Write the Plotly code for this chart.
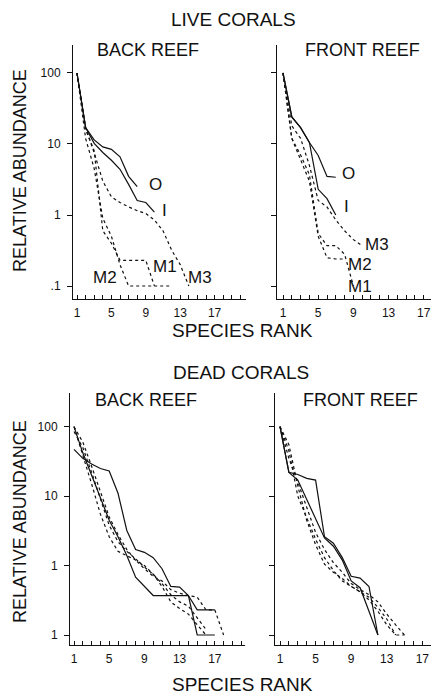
import numpy as np
import plotly.graph_objects as go

# ---------------- data (relative abundance by species rank) ----------------
# LIVE CORALS - BACK REEF
tl_O = [100, 17, 11.4, 9.1, 8.4, 6.6, 3.5, 2.5]
tl_I = [100, 17, 10.2, 7.6, 5.9, 4.4, 2.7, 1.6, 1.5, 1.1]
tl_M1 = [100, 16, 8, 0.6, 0.4, 0.23, 0.23, 0.23, 0.23, 0.1]
tl_M2 = [100, 12, 4.5, 0.9, 0.5, 0.2, 0.1, 0.1, 0.1, 0.1, 0.1, 0.1]
tl_M3 = [100, 17, 7.5, 3, 1.8, 1.5, 1.3, 1.15, 1.05, 0.85, 0.6, 0.32, 0.2, 0.1]

# LIVE CORALS - FRONT REEF
tr_O = [100, 24, 17, 10.5, 6.9, 3.5, 3.4]
tr_I = [100, 24, 17, 10.5, 2.3, 1.7, 1.0]
tr_M1 = [100, 12, 7, 3.7, 0.55, 0.37, 0.37, 0.28, 0.1]
tr_M2 = [100, 12, 6, 3.0, 0.5, 0.25, 0.24, 0.24]
tr_M3 = [100, 18, 12, 5, 1.6, 1.3, 0.85, 0.6, 0.45, 0.37]

# DEAD CORALS - BACK REEF
bl_A = [47, 35, 29, 25, 23, 11, 3.2, 1.7, 1.55, 1.3, 0.9, 0.5, 0.49, 0.37, 0.23, 0.23, 0.23]
bl_B = [100, 42, 20, 9.6, 4.5, 2.6, 1.4, 0.68, 0.5, 0.37, 0.37, 0.37, 0.37, 0.37, 0.1, 0.1, 0.1]
bl_D1 = [100, 60, 27, 12, 5.0, 2.8, 1.7, 1.2, 0.9, 0.7, 0.6, 0.45, 0.4, 0.37, 0.35, 0.23, 0.23, 0.1]
bl_D2 = [85, 50, 22, 9, 3.8, 2.2, 1.6, 1.25, 0.95, 0.75, 0.55, 0.38, 0.3, 0.26, 0.18, 0.12]
bl_D3 = [100, 40, 15, 5.5, 2.6, 1.6, 1.4, 1.2, 1.0, 0.75, 0.5, 0.3, 0.24, 0.2, 0.14, 0.1]

# DEAD CORALS - FRONT REEF
br_S1 = [100, 22, 20.5, 18, 17, 2.6, 2.1, 1.3, 0.7, 0.66, 0.5, 0.1]
br_S2 = [100, 22, 17, 8.8, 4.6, 2.5, 1.9, 1.2, 0.6, 0.48, 0.22, 0.1]
br_D1 = [100, 55, 14, 4.5, 2.0, 1.05, 0.8, 0.65, 0.5, 0.42, 0.35, 0.25, 0.17, 0.1]
br_D2 = [100, 45, 10, 5.0, 2.4, 1.3, 0.85, 0.6, 0.5, 0.42, 0.32, 0.22, 0.14, 0.1, 0.1]
br_D3 = [100, 35, 16, 7, 3.0, 1.7, 1.1, 0.8, 0.55, 0.45, 0.38, 0.3, 0.2, 0.14, 0.1]

x_tickvals = [1, 5, 9, 13, 17]
x_ticktext = ["1", "5", "9", "13", "17"]
y_tickvals = [0.1, 1, 10, 100]
y_ticktext_top = [".1", "1", "10", "100"]
y_ticktext_bot = ["1", "1", "10", "100"]

# curve labels (rank, value)
tl_labels = [("O", 10.1, 2.7), ("I", 11.2, 1.15), ("M1", 11.2, 0.19), ("M2", 4.3, 0.13), ("M3", 15.3, 0.13)]
tr_labels = [("O", 8.4, 3.9), ("I", 8.2, 1.3), ("M3", 11.7, 0.39), ("M2", 9.75, 0.2), ("M1", 9.75, 0.1)]

# ---------------- figure ----------------
INK = "#111111"
FONT = "Liberation Sans, Arial, sans-serif"
SOLID = dict(color=INK, width=1.2)
DASH = dict(color=INK, width=1.2, dash="3px,3px")

fig = go.Figure()

def add(vals, xa, ya, style):
    fig.add_trace(go.Scatter(x=list(range(1, len(vals) + 1)), y=vals, mode="lines",
                             line=style, xaxis=xa, yaxis=ya, showlegend=False,
                             hoverinfo="skip"))

for v in [tl_O, tl_I]:
    add(v, "x", "y", SOLID)
for v in [tl_M1, tl_M2, tl_M3]:
    add(v, "x", "y", DASH)
for v in [tr_O, tr_I]:
    add(v, "x2", "y2", SOLID)
for v in [tr_M1, tr_M2, tr_M3]:
    add(v, "x2", "y2", DASH)
for v in [bl_A, bl_B]:
    add(v, "x3", "y3", SOLID)
for v in [bl_D1, bl_D2, bl_D3]:
    add(v, "x3", "y3", DASH)
for v in [br_S1, br_S2]:
    add(v, "x4", "y4", SOLID)
for v in [br_D1, br_D2, br_D3]:
    add(v, "x4", "y4", DASH)

W, H = 431, 699

def xaxis(px0, px1, r0, r1, anchor):
    return dict(domain=[px0 / W, px1 / W], range=[r0, r1], anchor=anchor,
                showline=True, linecolor=INK, linewidth=1, showgrid=False, zeroline=False,
                tickmode="array", tickvals=x_tickvals, ticktext=x_ticktext,
                ticks="inside", ticklen=4, tickcolor=INK, tickwidth=1,
                minor=dict(tickmode="linear", tick0=0, dtick=1, ticks="inside",
                           ticklen=4, tickcolor=INK, tickwidth=1, showgrid=False),
                tickfont=dict(size=12, family=FONT, color=INK),
                ticklabelstandoff=3, fixedrange=True)

def yaxis(py_top, py_bot, r0, r1, anchor, ticktext, labels=True):
    return dict(type="log", domain=[1 - py_bot / H, 1 - py_top / H], range=[r0, r1],
                anchor=anchor, showline=True, linecolor=INK, linewidth=1,
                showgrid=False, zeroline=False, tickmode="array",
                tickvals=y_tickvals, ticktext=ticktext, ticks="outside", ticklen=5,
                tickcolor=INK, tickwidth=1, showticklabels=labels,
                tickfont=dict(size=12, family=FONT, color=INK),
                ticklabelstandoff=4, fixedrange=True)

annotations = []

def txt(text, x, y, size, xref="paper", yref="paper", angle=0):
    annotations.append(dict(text=text, x=x, y=y, xref=xref, yref=yref, showarrow=False,
                            textangle=angle, xanchor="center", yanchor="middle",
                            font=dict(size=size, family=FONT, color=INK)))

# titles
txt("LIVE CORALS", 233 / W, 1 - 19 / H, 19)
txt("DEAD CORALS", 241 / W, 1 - 372 / H, 19)
txt("BACK REEF", 148 / W, 1 - 50 / H, 18)
txt("FRONT REEF", 362 / W, 1 - 50 / H, 18)
txt("BACK REEF", 146 / W, 1 - 400 / H, 18)
txt("FRONT REEF", 360 / W, 1 - 400 / H, 18)
txt("SPECIES RANK", 243 / W, 1 - 330 / H, 19)
txt("SPECIES RANK", 243 / W, 1 - 684 / H, 19)
txt("RELATIVE ABUNDANCE", 20 / W, 1 - 171 / H, 18, angle=-90)
txt("RELATIVE ABUNDANCE", 20 / W, 1 - 522 / H, 18, angle=-90)

for t, xr, yv in tl_labels:
    txt(t, xr, float(np.log10(yv)), 17, xref="x", yref="y")
for t, xr, yv in tr_labels:
    txt(t, xr, float(np.log10(yv)), 17, xref="x2", yref="y2")

fig.update_layout(
    width=W, height=H, margin=dict(l=0, r=0, t=0, b=0),
    paper_bgcolor="white", plot_bgcolor="white", showlegend=False,
    xaxis=xaxis(73, 246, 0.535, 20.65, "y"),
    yaxis=yaxis(45, 299, -1.183, 2.394, "x", y_ticktext_top, True),
    xaxis2=xaxis(277, 431, 0.318, 17.82, "y2"),
    yaxis2=yaxis(45, 299, -1.183, 2.394, "x2", y_ticktext_top, False),
    xaxis3=xaxis(70, 245, 0.545, 20.43, "y3"),
    yaxis3=yaxis(393, 645, -1.144, 2.485, "x3", y_ticktext_bot, True),
    xaxis4=xaxis(275, 431, 0.438, 17.97, "y4"),
    yaxis4=yaxis(393, 645, -1.144, 2.485, "x4", y_ticktext_bot, False),
    annotations=annotations,
)

fig.write_html("out.html")
